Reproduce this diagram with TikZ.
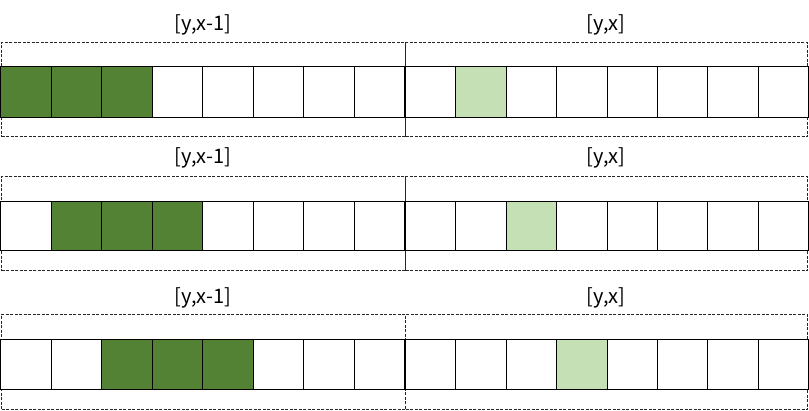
\documentclass[tikz,border=0pt]{standalone}
\usepackage{fontspec}
\setmainfont{Noto Sans CJK SC}
\usepackage{xcolor}
\definecolor{darkgreen}{HTML}{548235}
\definecolor{lightgreen}{HTML}{C5E0B4}
\tikzset{
  cell/.style={draw, line width=1pt, minimum width=50.5pt, inner sep=0pt, anchor=north west},
  frame/.style={draw=black!85, line width=1pt, dash pattern=on 3pt off 1.5pt, inner sep=0pt, anchor=north west},
  lbl/.style={font=\fontsize{20}{24}\selectfont, inner sep=0pt}
}
\begin{document}
\begin{tikzpicture}[x=1pt,y=-1pt]
 \useasboundingbox (0,0) rectangle (809,410);
 \foreach \r/\ft/\ct/\ch/\fb/\ly/\g in {1/42/66/51/136/25/0, 2/176/201/49/270/158/1, 3/314/339/50/409/298/2}{
   % dashed frames
   \node[frame, minimum width=404pt, minimum height={\fb pt-\ft pt}] (FL\r) at (1,\ft) {};
   \node[frame, minimum width=402pt, minimum height={\fb pt-\ft pt}] (FR\r) at (405,\ft) {};
   % cells
   \foreach \i [evaluate=\i as \on using {(\i>=\g)*(\i<=\g+2)*100},
                evaluate=\i as \onr using {(\i==\g+1)*100}] in {0,...,7}{
     \node[cell, minimum height=\ch pt, fill=darkgreen!\on!white] (L\r-\i) at ({\i*50.5},\ct) {};
     \node[cell, minimum height=\ch pt, fill=lightgreen!\onr!white] (R\r-\i) at ({405+\i*50.4},\ct) {};
   }
   % labels
   \node[lbl] (TL\r) at (203,\ly) {[y,x-1]};
   \node[lbl] (TR\r) at (606,\ly) {[y,x]};
 }
\end{tikzpicture}
\end{document}
